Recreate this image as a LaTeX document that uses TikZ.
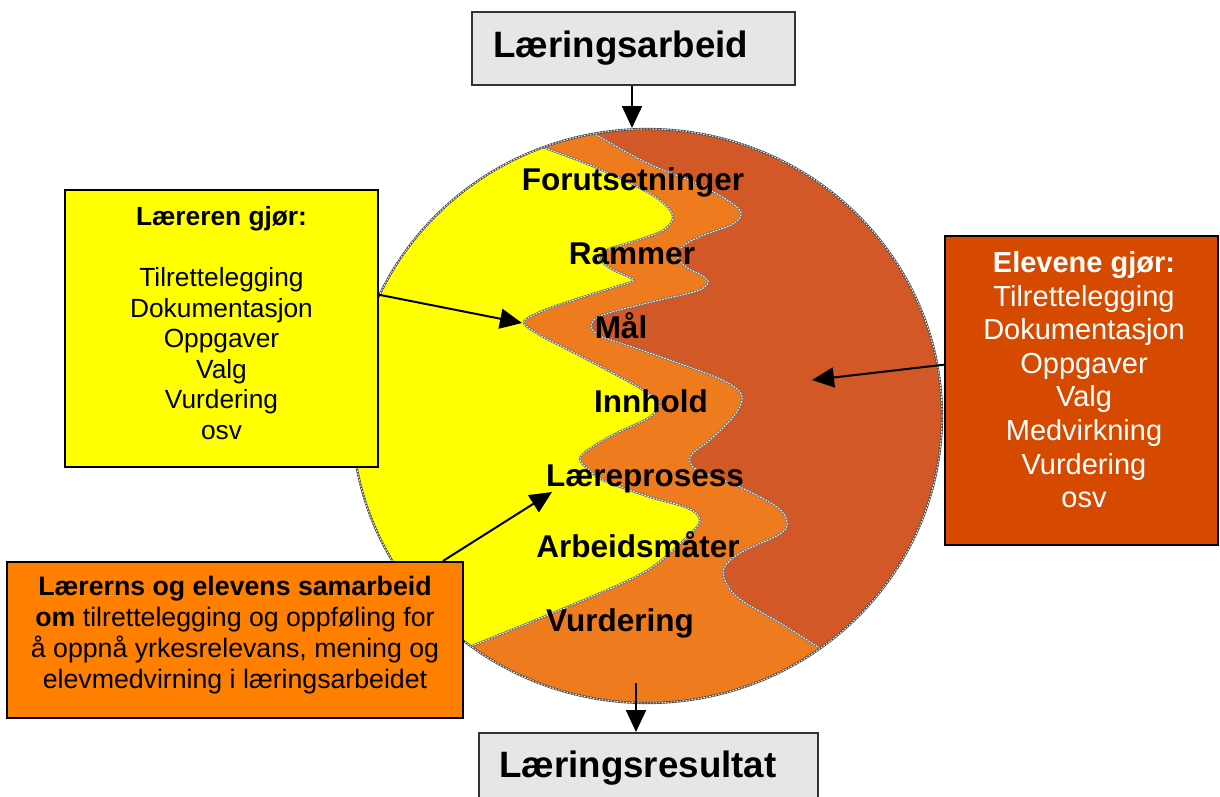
\documentclass[tikz,border=0pt]{standalone}
\usepackage{fontspec}
\setmainfont{Liberation Sans}
\usetikzlibrary{arrows.meta,calc}
\definecolor{lysgul}{HTML}{FFFF00}
\definecolor{midtoransje}{HTML}{EE7B1E}
\definecolor{mork}{HTML}{D25828}
\definecolor{boksoransje}{HTML}{FF7F00}
\definecolor{boksrod}{HTML}{D64A00}
\definecolor{boksgraa}{HTML}{E6E6E6}
\newcommand{\gulgrense}{plot[smooth, tension = 0.55] coordinates {(515,135) (543,147) (585,163) (630,183) (660,200) (673,216) (664,230) (635,241) (609,249) (599,257) (610,268) (627,276) (633,281) (612,288) (580,298) (545,310) (524,322) (540,335) (565,348) (613,373) (645,391) (659,403) (650,417) (617,433) (594,446) (580,458) (589,470) (605,481) (650,497) (688,508) (700,521) (684,540) (643,573) (560,610) (472,646) (430,665)}}
\newcommand{\oransjegrense}{plot[smooth, tension = 0.55] coordinates {(575,122) (593,133) (647,163) (700,185) (733,204) (741,215) (731,225) (704,235) (684,245) (677,256) (686,267) (703,276) (708,283) (697,291) (660,300) (627,308) (600,316) (591,325) (598,335) (620,343) (647,352) (713,376) (737,389) (742,400) (733,417) (710,440) (693,453) (690,463) (700,471) (740,487) (777,507) (787,522) (780,534) (740,553) (724,568) (726,583) (741,600) (780,623) (818,647) (845,665)}}

\begin{document}
\begin{tikzpicture}[x = 1pt, y = -1pt,
		ramme/.style = {draw = black, line width = 2pt, inner sep = 0pt},
		tekst/.style = {inner sep = 0pt, align = center},
		tittel/.style = {inner sep = 0pt, anchor = base west, font = \fontsize{36.7}{44}\selectfont\bfseries},
		fag/.style = {inner sep = 0pt, anchor = base, font = \fontsize{31.5}{36}\selectfont\bfseries},
		pil/.style = {-{Triangle[length = 22pt, width = 20pt]}, line width = 2pt},
		som/.style = {draw = black!55, line width = 2.2pt, postaction = {draw = white, line width = 0.9pt, dash pattern = on 1.6pt off 1.4pt}}]
	\useasboundingbox (0,0) rectangle (1220,796);
	\clip (0,0) rectangle (1220,796);

	\begin{scope}
		\clip (647,416) ellipse [x radius = 295, y radius = 287];
		\fill[mork] (300,100) rectangle (960,720);
		\fill[midtoransje] \oransjegrense -- (845,740) -- (300,740) -- (300,100) -- (575,100) -- cycle;
		\fill[lysgul] \gulgrense -- (300,665) -- (300,100) -- (515,100) -- cycle;
		\draw[som] \oransjegrense;
		\draw[som] \gulgrense;
	\end{scope}
	\draw[som, draw = black!70] (647,416) ellipse [x radius = 295, y radius = 287];

	\node[fag] (forut) at (633,190) {Forutsetninger};
	\node[fag] (rammer) at (632,264) {Rammer};
	\node[fag] (maal) at (621,338) {Mål};
	\node[fag] (innhold) at (651,412) {Innhold};
	\node[fag] (prosess) at (645,486) {Læreprosess};
	\node[fag] (maater) at (638,557) {Arbeidsmåter};
	\node[fag] (vurd) at (620,631) {Vurdering};

	\node[ramme, fill = boksgraa, draw = black!80, minimum width = 323, minimum height = 73] (arbeid) at (633.5,48.5) {};
	\node[tittel] (arbeidtekst) at (493,57) {Læringsarbeid};
	\node[ramme, fill = boksgraa, draw = black!80, minimum width = 339, minimum height = 100, anchor = north west] (resultat) at (478,732) {};
	\node[tittel] (resultattekst) at (499,777) {Læringsresultat};

	\node[ramme, fill = lysgul, minimum width = 313, minimum height = 277] (laerer) at (221.5,328.5) {};
	\node[tekst, anchor = north, font = \fontsize{26.3}{30.5}\selectfont] (laerertekst) at (221.5,206.4)
		{\textbf{Læreren gjør:}\\[30.5pt]Tilrettelegging\\Dokumentasjon\\Oppgaver\\Valg\\Vurdering\\osv};

	\node[ramme, fill = boksrod, minimum width = 273, minimum height = 309] (elever) at (1081.5,390.5) {};
	\node[tekst, anchor = north, text = white, font = \fontsize{29}{33.6}\selectfont] (elevtekst) at (1084,251.2)
		{\textbf{Elevene gjør:}\\Tilrettelegging\\Dokumentasjon\\Oppgaver\\Valg\\Medvirkning\\Vurdering\\osv};

	\node[ramme, fill = boksoransje, minimum width = 456, minimum height = 156] (samarbeid) at (235,640) {};
	\node[tekst, anchor = north, font = \fontsize{26.7}{31}\selectfont] (samarbeidtekst) at (235,575.9)
		{\textbf{Lærerns og elevens samarbeid}\\\textbf{om} tilrettelegging og oppføling for\\å oppnå yrkesrelevans, mening og\\elevmedvirning i læringsarbeidet};

	\coordinate (maalspiss) at (522,323);
	\coordinate (prosessspiss) at (552,492);
	\coordinate (innholdspiss) at (812,380);
	\coordinate (topp) at (632,128);
	\coordinate (bunn) at (636,683);
	\draw[pil] ($(laerer.north east)!0.379!(laerer.south east)$) -- (maalspiss);
	\draw[pil] ($(samarbeid.north west)!0.954!(samarbeid.north east)$) -- (prosessspiss);
	\draw[pil] ($(elever.north west)!0.417!(elever.south west)$) -- (innholdspiss);
	\draw[pil] (arbeid.south -| topp) -- (topp);
	\draw[pil] (bunn) -- (resultat.north -| bunn);
\end{tikzpicture}
\end{document}
